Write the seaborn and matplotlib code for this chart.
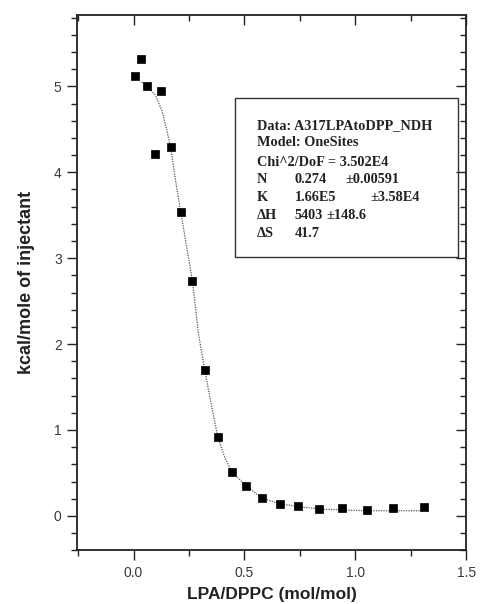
import matplotlib
matplotlib.use("Agg")
import matplotlib.pyplot as plt
import seaborn as sns
import pandas as pd
from matplotlib.ticker import MultipleLocator, NullFormatter
from matplotlib.patches import Rectangle

# data
x_data = [0.008, 0.032, 0.063, 0.096, 0.126, 0.168, 0.213, 0.266, 0.321, 0.380,
          0.444, 0.508, 0.578, 0.659, 0.743, 0.838, 0.940, 1.051, 1.171, 1.310]
y_data = [5.12, 5.32, 5.00, 4.21, 4.95, 4.29, 3.54, 2.73, 1.70, 0.92,
          0.51, 0.35, 0.21, 0.14, 0.11, 0.08, 0.09, 0.07, 0.09, 0.10]

x_fit = [0.037, 0.063, 0.098, 0.128, 0.150, 0.168, 0.190, 0.213, 0.240, 0.266,
         0.293, 0.321, 0.353, 0.380, 0.413, 0.444, 0.508, 0.578, 0.659, 0.743,
         0.838, 0.940, 1.051, 1.170, 1.290]
y_fit = [5.05, 5.00, 4.90, 4.72, 4.49, 4.29, 3.90, 3.54, 3.13, 2.73,
         2.12, 1.70, 1.27, 0.92, 0.67, 0.51, 0.35, 0.21, 0.14, 0.11,
         0.08, 0.07, 0.06, 0.06, 0.06]

xticks = [0.0, 0.5, 1.0, 1.5]
xtick_labels = ["0.0", "0.5", "1.0", "1.5"]
yticks = [0, 1, 2, 3, 4, 5]

info_labels = ["N", "K", "\u0394H", "\u0394S"]
info_values = ["0.274", "1.66E5", "5403", "41.7"]
info_errors = ["\u00b10.00591", "\u00b13.58E4", "\u00b1148.6", ""]

sns.set_style("ticks")
plt.rcParams['font.family'] = ['Liberation Sans', 'DejaVu Sans']

fig = plt.figure(figsize=(4.81, 6.04), dpi=100)
ax = fig.add_axes([0.160, 0.089, 0.809, 0.886])

df_fit = pd.DataFrame({"x": x_fit, "y": y_fit})
df = pd.DataFrame({"x": x_data, "y": y_data})
sns.lineplot(data=df_fit, x="x", y="y", ax=ax, color="#555555", lw=0.9,
             linestyle=(0, (1, 1)), sort=False)
sns.scatterplot(data=df, x="x", y="y", ax=ax, marker="s", s=38, color="black",
                edgecolor="black", linewidth=0.5, zorder=3)

ax.set_xlim(-0.255, 1.5)
ax.set_ylim(-0.4, 5.83)
ax.set_xticks(xticks)
ax.set_xticklabels(xtick_labels)
ax.set_yticks(yticks)
ax.xaxis.set_minor_locator(MultipleLocator(0.25))
ax.yaxis.set_minor_locator(MultipleLocator(0.2))
ax.tick_params(which="both", direction="out", width=1.0, color="#222222")
ax.tick_params(which="major", length=7, labelsize=10, labelcolor="#3a3a3a", pad=4)
ax.tick_params(which="minor", length=4)
for s in ax.spines.values():
    s.set_linewidth(1.3)
    s.set_color("#222222")

# inward ticks on top and right
secx = ax.secondary_xaxis('top')
secy = ax.secondary_yaxis('right')
for sec in (secx, secy):
    sec.tick_params(which="both", direction="in", width=1.0, color="#222222")
    sec.tick_params(which="major", length=7)
    sec.tick_params(which="minor", length=4)
    sec.spines[:].set_visible(False)
secx.set_xticks(xticks)
secx.xaxis.set_major_formatter(NullFormatter())
secx.xaxis.set_minor_locator(MultipleLocator(0.25))
secy.set_yticks(yticks)
secy.yaxis.set_major_formatter(NullFormatter())
secy.yaxis.set_minor_locator(MultipleLocator(0.2))

ax.set_xlabel("LPA/DPPC (mol/mol)", fontsize=12.5, fontweight="bold", color="#222222")
ax.set_ylabel("kcal/mole of injectant", fontsize=13, fontweight="bold", color="#222222")
ax.xaxis.set_label_coords(0.5, -0.068)
ax.yaxis.set_label_coords(-0.108, 0.5)

# info box
ax.add_patch(Rectangle((0.407, 0.548), 0.573, 0.297, transform=ax.transAxes,
                       fill=False, edgecolor="#333333", lw=1.0, zorder=4))
tf = dict(family=['Liberation Serif', 'DejaVu Serif'], fontsize=10.3,
          fontweight="bold", color="#222222", transform=ax.transAxes, va="center")
x0, x1 = 0.462, 0.56
ys = [0.794, 0.761, 0.725, 0.693, 0.660, 0.626, 0.592]
ax.text(x0, ys[0], "Data: A317LPAtoDPP_NDH", **tf)
ax.text(x0, ys[1], "Model: OneSites", **tf)
ax.text(x0, ys[2], "Chi^2/DoF = 3.502E4", **tf)
err_x = [0.69, 0.755, 0.64, 0.66]
for i in range(4):
    ax.text(x0, ys[3 + i], info_labels[i], **tf)
    ax.text(x1, ys[3 + i], info_values[i], **tf)
    ax.text(err_x[i], ys[3 + i], info_errors[i], **tf)

fig.savefig("out.png", dpi=100)
